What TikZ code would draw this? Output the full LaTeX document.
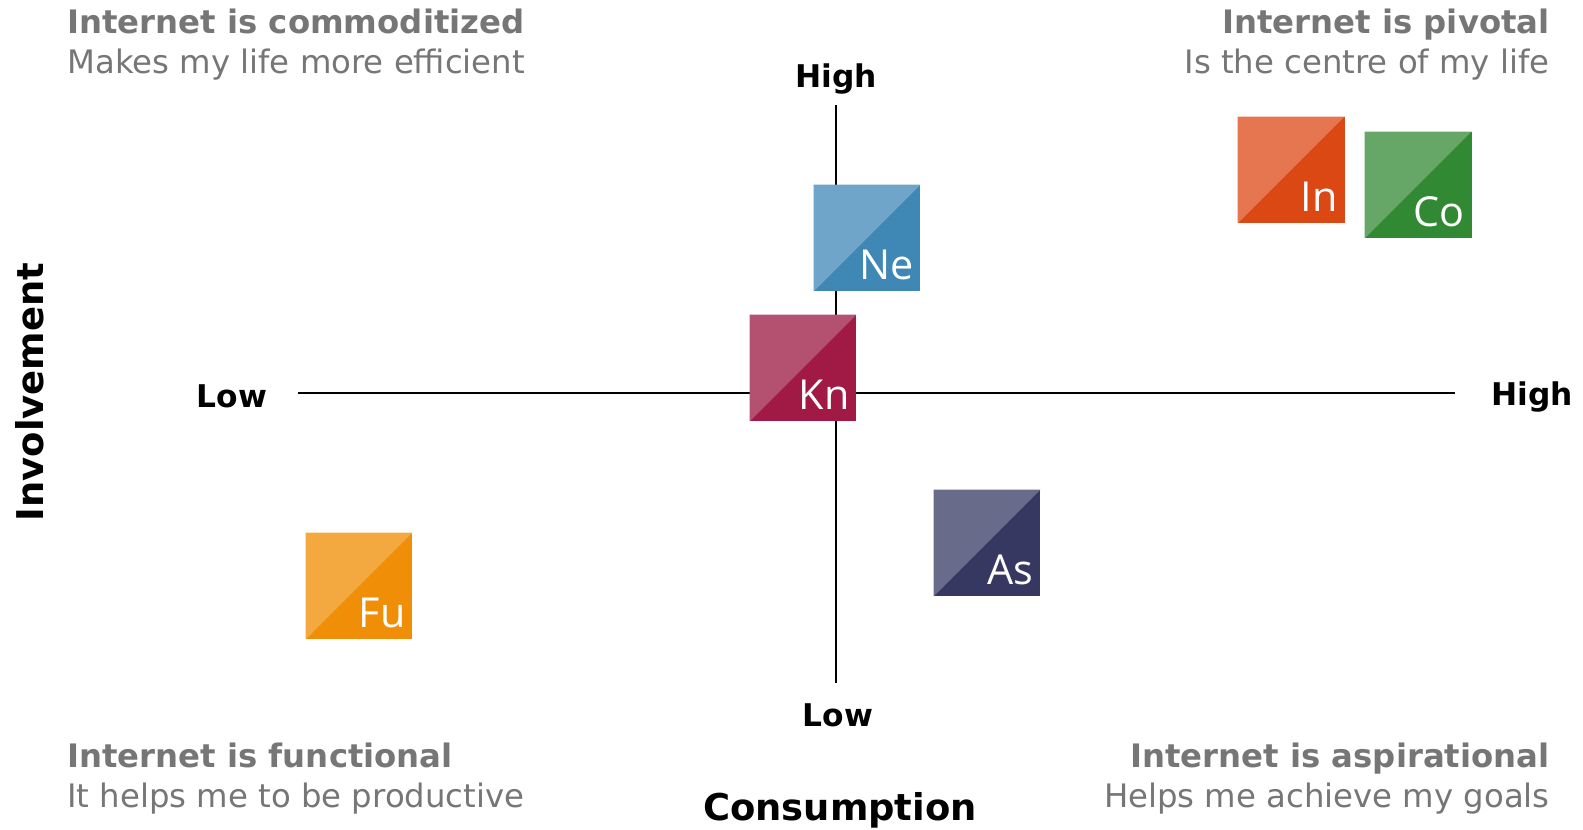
\documentclass[tikz,border=0pt]{standalone}
\usepackage{fontspec}
\setmainfont{DejaVu Sans}
\newfontfamily\tilefont{Open Sans}
\definecolor{capGray}{HTML}{767676}
\definecolor{inLight}{HTML}{E57650}
\definecolor{inDark}{HTML}{DC4814}
\definecolor{coLight}{HTML}{66A667}
\definecolor{coDark}{HTML}{318A33}
\definecolor{neLight}{HTML}{6EA5C8}
\definecolor{neDark}{HTML}{3F87B5}
\definecolor{knLight}{HTML}{B55170}
\definecolor{knDark}{HTML}{A01A45}
\definecolor{asLight}{HTML}{696B8B}
\definecolor{asDark}{HTML}{363862}
\definecolor{fuLight}{HTML}{F3A940}
\definecolor{fuDark}{HTML}{F18E07}

\begin{document}
\begin{tikzpicture}[x=0.02cm,y=-0.02cm,
  quadtitle/.style={font=\fontsize{18.4}{22}\selectfont\bfseries,text=capGray,inner sep=0pt},
  quadsub/.style={font=\fontsize{18.4}{22}\selectfont,text=capGray,inner sep=0pt},
  axislabel/.style={font=\fontsize{17.8}{21}\selectfont\bfseries,inner sep=0pt,anchor=base},
  axistitle/.style={font=\fontsize{21}{25}\selectfont\bfseries,inner sep=0pt,anchor=base},
  tile/.style 2 args={
    minimum size=2.14cm,
    inner sep=0pt,
    fill=#2,
    path picture={
      \fill[#1] (path picture bounding box.south west) -- (path picture bounding box.north west)
        -- (path picture bounding box.north east) -- cycle;
    }
  },
  tiletext/.style={font=\tilefont\fontsize{23.5}{27}\selectfont,text=white,inner sep=0pt,
    anchor=base east,xshift=-0.14cm,yshift=0.24cm}
]
\useasboundingbox (0,0) rectangle (1583,829);

\coordinate (xlow) at (298,393);
\coordinate (xhigh) at (1455,393);
\coordinate (ytop) at (836,105);
\coordinate (ybot) at (836,683);
\draw[line width=0.7pt] (xlow) -- (xhigh);
\draw[line width=0.7pt] (ytop) -- (ybot);

\node[axislabel] (yhigh) at (836,87) {High};
\node[axislabel] (ylow) at (838,726) {Low};
\node[axislabel] (xlowlab) at (232,407) {Low};
\node[axislabel] (xhighlab) at (1532,405) {High};
\node[axistitle] (consumption) at (840,820) {Consumption};
\node[axistitle,rotate=90] (involvement) at (43,392) {Involvement};

\node[quadtitle,anchor=base west] (tltitle) at (67,33) {Internet is commoditized};
\node[quadsub,anchor=base west] (tlsub) at (67,73) {Makes my life more efficient};
\node[quadtitle,anchor=base east] (trtitle) at (1550,33) {Internet is pivotal};
\node[quadsub,anchor=base east] (trsub) at (1550,73) {Is the centre of my life};
\node[quadtitle,anchor=base west] (bltitle) at (67,767) {Internet is functional};
\node[quadsub,anchor=base west] (blsub) at (67,807) {It helps me to be productive};
\node[quadtitle,anchor=base east] (brtitle) at (1550,767) {Internet is aspirational};
\node[quadsub,anchor=base east] (brsub) at (1550,807) {Helps me achieve my goals};

\node[tile={inLight}{inDark}] (in) at (1291,170) {};
\node[tiletext] (inlab) at (in.south east) {In};
\node[tile={coLight}{coDark}] (co) at (1418,185) {};
\node[tiletext] (colab) at (co.south east) {Co};
\node[tile={neLight}{neDark}] (ne) at (867,238) {};
\node[tiletext] (nelab) at (ne.south east) {Ne};
\node[tile={knLight}{knDark}] (kn) at (803,368) {};
\node[tiletext] (knlab) at (kn.south east) {Kn};
\node[tile={asLight}{asDark}] (as) at (987,543) {};
\node[tiletext] (aslab) at (as.south east) {As};
\node[tile={fuLight}{fuDark}] (fu) at (359,586) {};
\node[tiletext] (fulab) at (fu.south east) {Fu};
\end{tikzpicture}
\end{document}
